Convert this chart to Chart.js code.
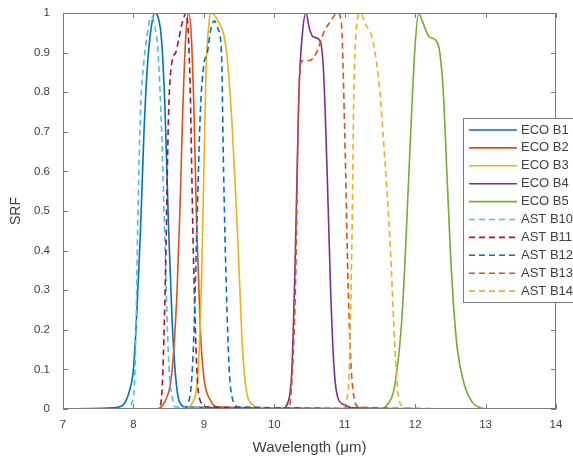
<!DOCTYPE html>
<html>
<head>
<meta charset="utf-8">
<script src="https://cdn.jsdelivr.net/npm/chart.js@4"></script>
<style>
  html, body { margin: 0; padding: 0; background: #fff; }
  #wrap { width: 573px; height: 461px; position: relative; }
</style>
</head>
<body>
<div id="wrap"><canvas id="srf"></canvas></div>
<script>
// band labels and colours (MATLAB default order)
const bandLabels = ['ECO B1', 'ECO B2', 'ECO B3', 'ECO B4', 'ECO B5',
                    'AST B10', 'AST B11', 'AST B12', 'AST B13', 'AST B14'];
const bandColors = ['#0072BD', '#D95319', '#EDB120', '#7E2F8E', '#77AC30',
                    '#4DBEEE', '#A2142F', '#0072BD', '#D95319', '#EDB120'];

// wavelength (um) / SRF pairs
const ecoB1Wl  = [7.0, 7.7, 7.85, 7.95, 8.0, 8.05, 8.1, 8.15, 8.2, 8.25, 8.3, 8.35, 8.4, 8.45, 8.5, 8.55, 8.6, 8.65, 8.75, 13.0];
const ecoB1Srf = [0, 0.003, 0.01, 0.05, 0.1, 0.25, 0.45, 0.7, 0.87, 0.96, 1.0, 0.99, 0.93, 0.75, 0.45, 0.22, 0.08, 0.02, 0.005, 0];

const ecoB2Wl  = [7.0, 8.3, 8.45, 8.55, 8.62, 8.66, 8.7, 8.74, 8.78, 8.82, 8.86, 8.9, 8.95, 9.0, 9.1, 9.2, 13.0];
const ecoB2Srf = [0, 0, 0.02, 0.1, 0.3, 0.5, 0.75, 0.93, 1.0, 0.95, 0.75, 0.45, 0.2, 0.08, 0.02, 0.005, 0];

const ecoB3Wl  = [7.0, 8.7, 8.85, 8.92, 8.97, 9.0, 9.03, 9.07, 9.1, 9.2, 9.3, 9.35, 9.4, 9.45, 9.5, 9.55, 9.6, 9.7, 9.8, 13.0];
const ecoB3Srf = [0, 0, 0.02, 0.1, 0.35, 0.6, 0.85, 0.97, 1.0, 0.98, 0.93, 0.85, 0.72, 0.55, 0.35, 0.15, 0.05, 0.01, 0.003, 0];

const ecoB4Wl  = [7.0, 10.1, 10.2, 10.25, 10.3, 10.35, 10.4, 10.45, 10.5, 10.55, 10.65, 10.7, 10.75, 10.8, 10.85, 10.9, 11.0, 11.1, 13.0];
const ecoB4Srf = [0, 0, 0.02, 0.1, 0.4, 0.8, 0.95, 1.0, 0.96, 0.94, 0.93, 0.85, 0.6, 0.3, 0.1, 0.03, 0.01, 0.003, 0];

const ecoB5Wl  = [7.0, 11.5, 11.6, 11.7, 11.8, 11.85, 11.9, 11.95, 12.0, 12.05, 12.1, 12.2, 12.3, 12.35, 12.4, 12.45, 12.5, 12.55, 12.6, 12.7, 12.8, 12.9, 13.0];
const ecoB5Srf = [0, 0, 0.01, 0.05, 0.2, 0.35, 0.55, 0.75, 0.92, 1.0, 0.98, 0.94, 0.93, 0.9, 0.8, 0.6, 0.4, 0.25, 0.15, 0.06, 0.02, 0.005, 0];

const astB10Wl  = [7.0, 7.9, 8.0, 8.03, 8.06, 8.1, 8.15, 8.2, 8.25, 8.3, 8.35, 8.4, 8.45, 8.5, 8.55, 8.6, 13.0];
const astB10Srf = [0, 0, 0.03, 0.15, 0.45, 0.75, 0.88, 0.95, 0.99, 0.97, 0.9, 0.7, 0.4, 0.12, 0.03, 0.005, 0];

const astB11Wl  = [7.0, 8.35, 8.4, 8.45, 8.5, 8.55, 8.6, 8.65, 8.7, 8.75, 8.8, 8.85, 8.9, 8.95, 9.05, 13.0];
const astB11Srf = [0, 0, 0.03, 0.3, 0.75, 0.88, 0.9, 0.94, 0.98, 1.0, 0.85, 0.4, 0.1, 0.02, 0.005, 0];

const astB12Wl  = [7.0, 8.7, 8.8, 8.85, 8.9, 8.95, 9.0, 9.05, 9.1, 9.15, 9.2, 9.25, 9.28, 9.32, 9.36, 9.4, 9.5, 13.0];
const astB12Srf = [0, 0, 0.03, 0.15, 0.45, 0.75, 0.87, 0.9, 0.96, 0.98, 0.96, 0.9, 0.6, 0.3, 0.1, 0.03, 0.005, 0];

const astB13Wl  = [7.0, 10.2, 10.3, 10.35, 10.4, 10.5, 10.6, 10.7, 10.8, 10.9, 10.95, 11.0, 11.05, 11.1, 11.2, 13.0];
const astB13Srf = [0, 0, 0.3, 0.8, 0.88, 0.88, 0.9, 0.95, 0.98, 1.0, 0.98, 0.7, 0.3, 0.08, 0.005, 0];

const astB14Wl  = [7.0, 10.95, 11.05, 11.1, 11.13, 11.17, 11.22, 11.3, 11.4, 11.5, 11.55, 11.6, 11.65, 11.7, 11.75, 11.8, 11.9, 13.0];
const astB14Srf = [0, 0, 0.05, 0.4, 0.8, 0.97, 1.0, 0.97, 0.93, 0.8, 0.68, 0.55, 0.4, 0.2, 0.05, 0.01, 0.003, 0];

const xTicks = [7, 8, 9, 10, 11, 12, 13, 14];
const yTicks = [0, 0.1, 0.2, 0.3, 0.4, 0.5, 0.6, 0.7, 0.8, 0.9, 1];

const bandWl  = [ecoB1Wl, ecoB2Wl, ecoB3Wl, ecoB4Wl, ecoB5Wl, astB10Wl, astB11Wl, astB12Wl, astB13Wl, astB14Wl];
const bandSrf = [ecoB1Srf, ecoB2Srf, ecoB3Srf, ecoB4Srf, ecoB5Srf, astB10Srf, astB11Srf, astB12Srf, astB13Srf, astB14Srf];

const FONT = '"Liberation Sans", Arial, sans-serif';
const TEXT_COLOR = '#404040';
const BOX_COLOR = '#7a7a7a';

const datasets = bandLabels.map((label, i) => ({
    label: label,
    data: bandWl[i].map((x, j) => ({ x: x, y: bandSrf[i][j] })),
    borderColor: bandColors[i],
    borderWidth: 1.6,
    borderDash: label.startsWith('AST') ? [6, 4] : [],
    pointRadius: 0,
    fill: false,
    cubicInterpolationMode: 'monotone',
    order: 10 - i // later bands on top, like MATLAB
}));

// box + inward ticks, MATLAB style
const boxPlugin = {
    id: 'box',
    afterDatasetsDraw(chart) {
        const { ctx, chartArea: a, scales } = chart;
        ctx.save();
        ctx.strokeStyle = BOX_COLOR;
        ctx.lineWidth = 1;
        ctx.strokeRect(a.left + 0.5, a.top + 0.5, a.right - a.left - 1, a.bottom - a.top - 1);
        const len = 5;
        ctx.beginPath();
        xTicks.forEach(v => {
            const px = Math.round(scales.x.getPixelForValue(v)) + 0.5;
            ctx.moveTo(px, a.bottom); ctx.lineTo(px, a.bottom - len);
            ctx.moveTo(px, a.top); ctx.lineTo(px, a.top + len);
        });
        yTicks.forEach(v => {
            const py = Math.round(scales.y.getPixelForValue(v)) + 0.5;
            ctx.moveTo(a.left, py); ctx.lineTo(a.left + len, py);
            ctx.moveTo(a.right, py); ctx.lineTo(a.right - len, py);
        });
        ctx.stroke();
        ctx.restore();
    }
};

// legend box drawn over the plot, right side (runs off the canvas like the original)
const legendPlugin = {
    id: 'boxLegend',
    afterDraw(chart) {
        const ctx = chart.ctx;
        const left = 463, top = 118, rowH = 17.9, w = 130;
        const h = rowH * bandLabels.length + 5;
        ctx.save();
        ctx.fillStyle = '#fff';
        ctx.fillRect(left, top, w, h);
        ctx.strokeStyle = BOX_COLOR;
        ctx.lineWidth = 1;
        ctx.strokeRect(left + 0.5, top + 0.5, w, h);
        ctx.font = '13px ' + FONT;
        ctx.textBaseline = 'middle';
        chart.data.datasets.forEach((ds, i) => {
            const y = top + 12 + i * rowH;
            ctx.beginPath();
            ctx.strokeStyle = ds.borderColor;
            ctx.lineWidth = 1.6;
            ctx.setLineDash(ds.borderDash);
            ctx.moveTo(left + 6, y);
            ctx.lineTo(left + 54, y);
            ctx.stroke();
            ctx.setLineDash([]);
            ctx.fillStyle = TEXT_COLOR;
            ctx.fillText(ds.label, left + 58, y);
        });
        ctx.restore();
    }
};

new Chart(document.getElementById('srf'), {
    type: 'line',
    data: { datasets: datasets },
    options: {
        responsive: true,
        maintainAspectRatio: false,
        animation: false,
        layout: { padding: { left: 0, right: 17, top: 13, bottom: 0 } },
        plugins: {
            legend: { display: false },
            tooltip: { enabled: false }
        },
        scales: {
            x: {
                type: 'linear',
                min: 7, max: 14,
                afterBuildTicks: s => { s.ticks = xTicks.map(v => ({ value: v })); },
                afterFit: s => { s.height = 52; },
                grid: { display: false },
                border: { display: false },
                ticks: { color: TEXT_COLOR, font: { family: FONT, size: 11.5 }, padding: 1,
                         callback: v => String(v) },
                title: { display: true, text: 'Wavelength (\u03bcm)', color: TEXT_COLOR,
                         font: { family: FONT, size: 15 }, padding: { top: 1 } }
            },
            y: {
                min: 0, max: 1,
                afterBuildTicks: s => { s.ticks = yTicks.map(v => ({ value: v })); },
                afterFit: s => { s.width = 63; },
                grid: { display: false },
                border: { display: false },
                ticks: { color: TEXT_COLOR, font: { family: FONT, size: 11.5 }, padding: 5,
                         callback: v => String(v) },
                title: { display: true, text: 'SRF', color: TEXT_COLOR,
                         font: { family: FONT, size: 14 }, padding: { top: 8, bottom: 0 } }
            }
        }
    },
    plugins: [boxPlugin, legendPlugin]
});
</script>
</body>
</html>
